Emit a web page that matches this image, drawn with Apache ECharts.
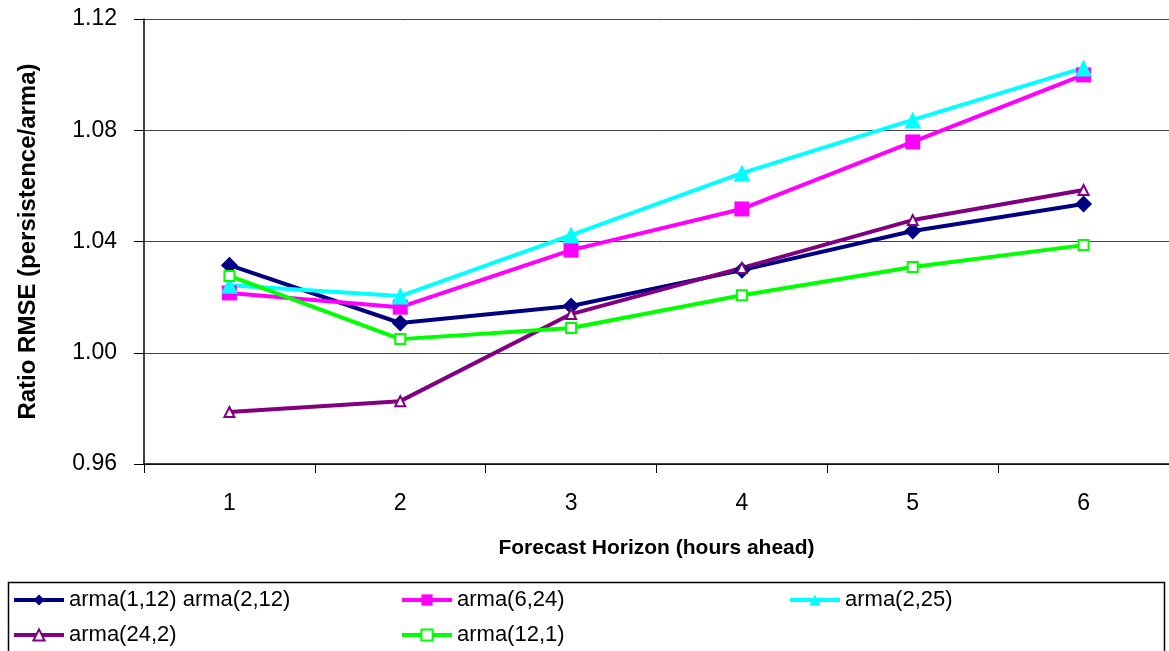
<!DOCTYPE html>
<html>
<head>
<meta charset="utf-8">
<script src="https://cdn.jsdelivr.net/npm/echarts@6/dist/echarts.min.js"></script>
<style>
html,body{margin:0;padding:0;background:#fff;}
#chart{width:1169px;height:651px;}
</style>
</head>
<body>
<div id="chart"></div>
<script>
const categories = ['1','2','3','4','5','6'];
const seriesNames = ['arma(1,12) arma(2,12)','arma(6,24)','arma(2,25)','arma(24,2)','arma(12,1)'];
const arma1_12 = [1.0315, 1.0107, 1.0168, 1.0297, 1.0438, 1.0535];
const arma6_24 = [1.0215, 1.0164, 1.0369, 1.0517, 1.0758, 1.0999];
const arma2_25 = [1.0243, 1.0204, 1.0423, 1.0646, 1.0837, 1.1024];
const arma24_2 = [0.9787, 0.9826, 1.0139, 1.0305, 1.0477, 1.0585];
const arma12_1 = [1.0276, 1.0049, 1.0089, 1.0207, 1.0308, 1.0387];
const yTicks = [0.96, 1.00, 1.04, 1.08, 1.12];

const FONT = '"Liberation Sans", Arial, sans-serif';
const colors = ['#000080','#ff00ff','#00ffff','#800080','#00ff00'];
const symbols = ['diamond','rect','triangle','emptyTriangle','emptyRect'];
const sizes = [17,15,17,10,10];
const values = [arma1_12, arma6_24, arma2_25, arma24_2, arma12_1];

const legendPos = [[12,589],[400,589],[788,589],[12,624],[400,624]];
const legends = seriesNames.map((n,i)=>({
  data:[n], left:legendPos[i][0], top:legendPos[i][1], padding:0,
  itemWidth:50, itemHeight:14, itemGap:0, selectedMode:false,
  lineStyle:{width:4},
  textStyle:{fontFamily:FONT, fontSize:22, color:'#000', padding:[0,0,0,0]}
}));

const chart = echarts.init(document.getElementById('chart'), null, {renderer:'canvas'});
chart.setOption({
  animation:false,
  backgroundColor:'#fff',
  grid:{left:144, right:0, top:19, bottom:187},
  legend: legends,
  graphic:[{type:'rect', shape:{x:8.5,y:582.5,width:1156,height:80}, style:{fill:'none', stroke:'#000', lineWidth:1.5}, z:-1}],
  xAxis:{
    type:'category', data:categories, boundaryGap:true,
    name:'Forecast Horizon (hours ahead)', nameLocation:'middle', nameGap:74,
    nameTextStyle:{fontFamily:FONT, fontSize:21, fontWeight:'bold', color:'#000'},
    axisLine:{lineStyle:{color:'#000', width:1.5}},
    axisTick:{show:true, length:9, lineStyle:{color:'#000'}, alignWithLabel:false},
    axisLabel:{fontFamily:FONT, fontSize:23, color:'#000', margin:28},
    splitLine:{show:false}
  },
  yAxis:{
    type:'value', min:0.96, max:1.12, interval:0.04,
    name:'Ratio RMSE (persistence/arma)', nameLocation:'middle', nameGap:104, nameRotate:90,
    nameTextStyle:{fontFamily:FONT, fontSize:24, fontWeight:'bold', color:'#000'},
    axisLine:{show:true, lineStyle:{color:'#000', width:1.5}},
    axisTick:{show:true, length:10, lineStyle:{color:'#000'}},
    axisLabel:{fontFamily:FONT, fontSize:23, color:'#000', margin:27, formatter:v=>v.toFixed(2)},
    splitLine:{show:true, lineStyle:{color:'#444', width:1}}
  },
  series: seriesNames.map((n,i)=>({
    name:n, type:'line', data:values[i],
    symbol:symbols[i], symbolSize:sizes[i], showAllSymbol:true,
    lineStyle:{color:colors[i], width:4},
    itemStyle:{color:colors[i], borderColor:colors[i], borderWidth: i>=3 ? 1.5 : 0}
  }))
});
</script>
</body>
</html>
